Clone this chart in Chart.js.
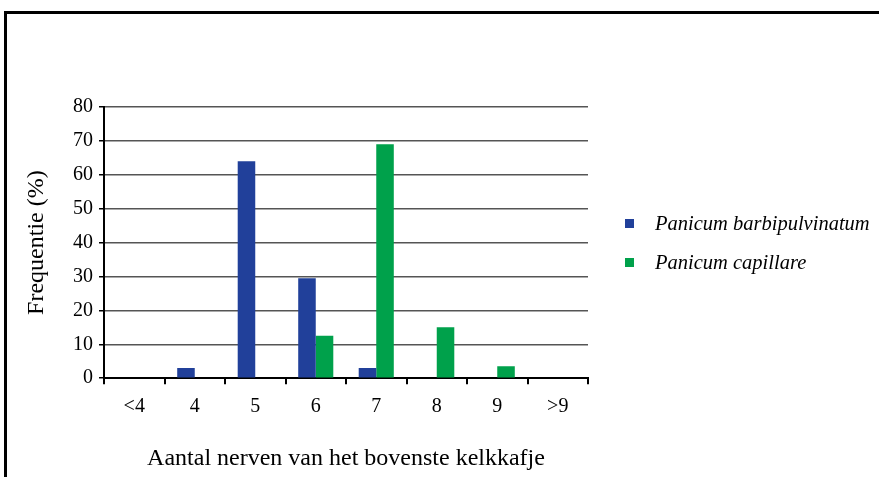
<!DOCTYPE html>
<html>
<head>
<meta charset="utf-8">
<script src="https://cdn.jsdelivr.net/npm/chart.js@4/dist/chart.umd.min.js"></script>
<style>
  html, body { margin: 0; padding: 0; background: #fff; }
  #wrap { position: relative; width: 879px; height: 477px; overflow: hidden; }
  #frame { position: absolute; left: 4px; top: 11px; width: 1000px; height: 600px;
           border-left: 3px solid #000; border-top: 3px solid #000; }
  #chart { position: absolute; left: 0; top: 0; }
  #legend { position: absolute; left: 625px; top: 204px; font-family: "Liberation Serif", serif;
            font-style: italic; font-size: 20.5px; color: #000; }
  #legend div { height: 39px; display: flex; align-items: center; }
  #legend span.box { display: inline-block; width: 9px; height: 9px; margin-right: 21px; }
</style>
</head>
<body>
<div id="wrap">
  <div id="frame"></div>
  <canvas id="chart" width="879" height="477"></canvas>
  <div id="legend"></div>
</div>
<script>
// categories: number of nerves on the upper glume
const categories = ['<4', '4', '5', '6', '7', '8', '9', '>9'];
const seriesNames = ['Panicum barbipulvinatum', 'Panicum capillare'];
const barbipulvinatum = [0, 3, 64, 29.5, 3, 0, 0, 0];
const capillare = [0, 0, 0, 12.5, 69, 15, 3.5, 0];
const yTicks = [0, 10, 20, 30, 40, 50, 60, 70, 80];
const colors = ['#21409a', '#00a14b'];

const serif = '"Liberation Serif", "Times New Roman", serif';

const chart = new Chart(document.getElementById('chart').getContext('2d'), {
    type: 'bar',
    data: {
        labels: categories,
        datasets: [
            { label: seriesNames[0], data: barbipulvinatum, backgroundColor: colors[0] },
            { label: seriesNames[1], data: capillare, backgroundColor: colors[1] }
        ]
    },
    options: {
        responsive: false,
        animation: false,
        categoryPercentage: 0.58,
        barPercentage: 1.0,
        layout: { padding: { top: 107, right: 291, bottom: 4, left: 22 } },
        plugins: {
            legend: { display: false },
            tooltip: { enabled: false }
        },
        scales: {
            x: {
                offset: true,
                grid: { offset: true, drawOnChartArea: false, drawTicks: true, tickLength: 6, color: '#000', lineWidth: 2 },
                border: { color: '#000', width: 2 },
                ticks: { color: '#000', font: { family: serif, size: 20 }, padding: 11 },
                title: { display: true, text: 'Aantal nerven van het bovenste kelkkafje', color: '#000',
                         font: { family: serif, size: 24 }, padding: { top: 14, bottom: 0 } }
            },
            y: {
                min: yTicks[0],
                max: yTicks[yTicks.length - 1],
                afterBuildTicks: (axis) => { axis.ticks = yTicks.map(v => ({ value: v })); },
                afterFit: (axis) => { axis.width = 82; },
                grid: { color: '#555', lineWidth: 1.5, tickLength: 5, tickColor: '#000' },
                border: { color: '#000', width: 2 },
                ticks: { color: '#000', font: { family: serif, size: 20 }, padding: 6 },
                title: { display: true, text: 'Frequentie (%)', color: '#000',
                         font: { family: serif, size: 24 }, padding: 0 }
            }
        }
    }
});

// legend built from the datasets
const legendEl = document.getElementById('legend');
chart.data.datasets.forEach(ds => {
    const row = document.createElement('div');
    const box = document.createElement('span');
    box.className = 'box';
    box.style.background = ds.backgroundColor;
    row.appendChild(box);
    row.appendChild(document.createTextNode(ds.label));
    legendEl.appendChild(row);
});
</script>
</body>
</html>
